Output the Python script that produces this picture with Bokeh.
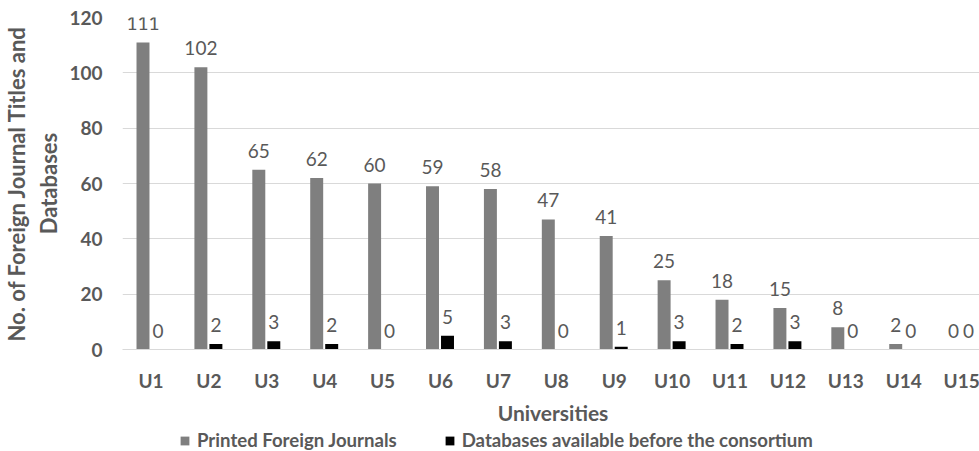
from bokeh.plotting import figure
from bokeh.layouts import column
from bokeh.models import ColumnDataSource, Range1d, FixedTicker, Legend, LegendItem
from bokeh.transform import dodge
from bokeh.core.properties import value
from bokeh.embed import file_html
from bokeh.resources import INLINE

universities = ["U1", "U2", "U3", "U4", "U5", "U6", "U7", "U8", "U9", "U10",
                "U11", "U12", "U13", "U14", "U15"]
printed_journals = [111, 102, 65, 62, 60, 59, 58, 47, 41, 25, 18, 15, 8, 2, 0]
databases_before = [0, 2, 3, 2, 0, 5, 3, 0, 1, 3, 2, 3, 0, 0, 0]
y_ticks = [0, 20, 40, 60, 80, 100, 120]
series_names = ["Printed Foreign Journals", "Databases available before the consortium"]

idx = list(range(1, len(universities) + 1))
src = ColumnDataSource(dict(
    x=idx,
    printed=printed_journals,
    db=databases_before,
    printed_lbl=[str(v) for v in printed_journals],
    db_lbl=[str(v) for v in databases_before],
))

FONT = "Lato"
TXT = "#595959"
GRAY = "#7f7f7f"
BLACK = "#000000"

p = figure(frame_width=861, frame_height=332,
           x_range=Range1d(0.508, 15.378), y_range=Range1d(0, 120),
           output_backend="svg", toolbar_location=None,
           min_border_left=110, min_border_right=0,
           min_border_top=17, min_border_bottom=71)
p.outline_line_color = None

p.vbar(x=dodge("x", -0.138, range=p.x_range), top="printed", width=0.224,
       source=src, fill_color=GRAY, line_color=None)
p.vbar(x=dodge("x", 0.121, range=p.x_range), top="db", width=0.224,
       source=src, fill_color=BLACK, line_color=None)

p.text(x=dodge("x", -0.138, range=p.x_range), y="printed", text="printed_lbl",
       source=src, text_align="center", text_baseline="middle", y_offset=-19,
       text_font=value(FONT), text_font_size="19px", text_color=TXT)
p.text(x=dodge("x", 0.121, range=p.x_range), y="db", text="db_lbl",
       source=src, text_align="center", text_baseline="middle", y_offset=-19,
       text_font=value(FONT), text_font_size="19px", text_color=TXT)

# axes
p.xaxis.ticker = FixedTicker(ticks=idx)
p.xaxis.major_label_overrides = {i: u for i, u in zip(idx, universities)}
p.yaxis.ticker = FixedTicker(ticks=y_ticks)
for ax in (p.xaxis, p.yaxis):
    ax.major_tick_line_color = None
    ax.minor_tick_line_color = None
    ax.major_label_text_font = FONT
    ax.major_label_text_font_style = "bold"
    ax.major_label_text_font_size = "19px"
    ax.major_label_text_color = TXT
    ax.axis_label_text_font = FONT
    ax.axis_label_text_font_style = "bold"
    ax.axis_label_text_color = TXT
p.xaxis.axis_label_text_font_size = "21px"
p.yaxis.axis_label_text_font_size = "22px"
p.xaxis.axis_line_color = "#d9d9d9"
p.yaxis.axis_line_color = None
p.xaxis.major_label_standoff = 13
p.yaxis.major_label_standoff = 14
p.xaxis.axis_label = "Universities"
p.xaxis.axis_label_standoff = 5
p.yaxis.axis_label = "No. of Foreign Journal Titles and\nDatabases"
p.yaxis.axis_label_standoff = 4

p.xgrid.grid_line_color = None
p.ygrid.grid_line_color = "#d9d9d9"
p.ygrid.ticker = FixedTicker(ticks=y_ticks)

# legend strip below the chart
lg = figure(width=971, height=24, x_range=Range1d(0, 1), y_range=Range1d(0, 1),
            output_backend="svg", toolbar_location=None,
            x_axis_location=None, y_axis_location=None, min_border=0)
lg.outline_line_color = None
lg.grid.visible = False
r1 = lg.vbar(x=[-5], top=[0], width=0.1, fill_color=GRAY, line_color=None)
r2 = lg.vbar(x=[-5], top=[0], width=0.1, fill_color=BLACK, line_color=None)
legend = Legend(items=[
    LegendItem(label=series_names[0], renderers=[r1]),
    LegendItem(label=series_names[1], renderers=[r2]),
], orientation="horizontal", location=(57, 0))
legend.padding = 0
legend.margin = 0
legend.spacing = 47
legend.glyph_width = 11
legend.glyph_height = 11
legend.label_standoff = 7
legend.label_height = 14
legend.label_text_font = FONT
legend.label_text_font_style = "bold"
legend.label_text_font_size = "18.6px"
legend.label_text_color = TXT
legend.border_line_color = None
legend.background_fill_alpha = 0
lg.add_layout(legend, "center")

layout = column(p, lg, spacing=0)
open("out.html", "w").write(file_html(layout, INLINE))
